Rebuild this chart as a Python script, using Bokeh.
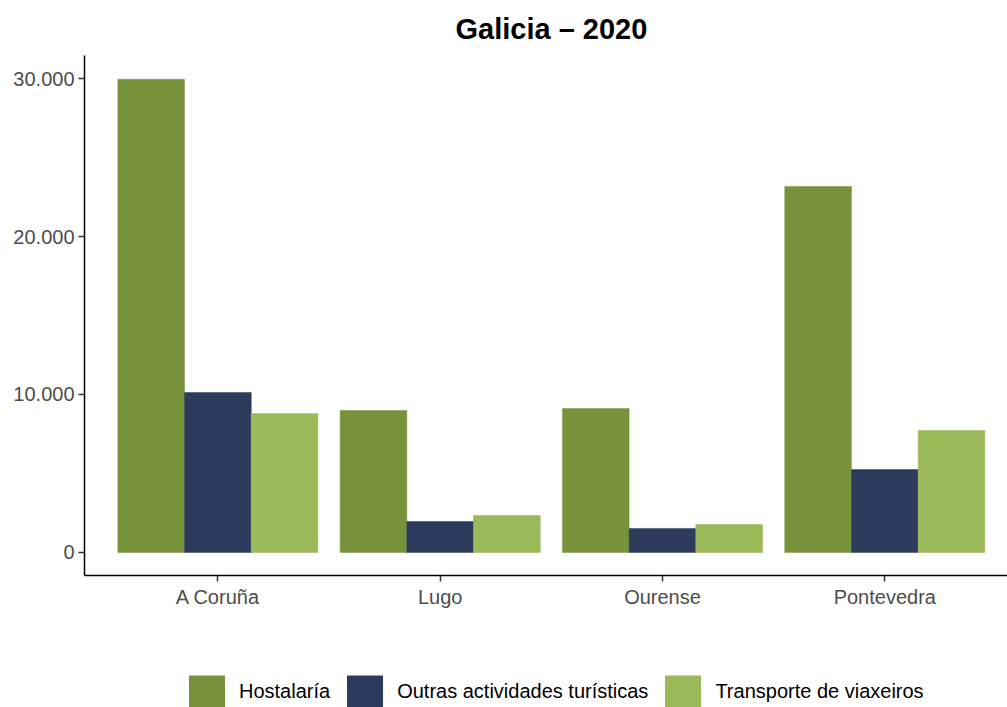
from bokeh.plotting import figure
from bokeh.models import Range1d, FixedTicker, Legend, LegendItem
from bokeh.layouts import column
from bokeh.embed import file_html
from bokeh.resources import INLINE

# Data
provinces = ["A Coruña", "Lugo", "Ourense", "Pontevedra"]
series = ["Hostalaría", "Outras actividades turísticas", "Transporte de viaxeiros"]
hostalaria = [29950, 8990, 9110, 23170]
outras = [10130, 1960, 1520, 5250]
transporte = [8800, 2340, 1770, 7720]
colors = ["#78923C", "#2C3A5C", "#9BB958"]
y_ticks = [0, 10000, 20000, 30000]

values = [hostalaria, outras, transporte]
xpos = [i + 1 for i in range(len(provinces))]

p = figure(width=1007, height=650, output_backend="svg", toolbar_location=None,
           x_range=Range1d(0.4, 4.552), y_range=Range1d(-1456, 31456),
           min_border_left=84, min_border_right=0, min_border_top=55, min_border_bottom=75)

p.title.text = "Galicia – 2020"
p.title.align = "left"
p.title.offset = 371
p.title.standoff = 21
p.title.text_font = "Liberation Sans"
p.title.text_font_size = "29px"
p.title.text_font_style = "bold"
p.title.text_color = "black"

bar_w = 0.3
offsets = [-0.3, 0.0, 0.3]
for vals, off, col in zip(values, offsets, colors):
    p.vbar(x=[x + off for x in xpos], top=vals, bottom=0, width=bar_w,
           fill_color=col, line_color=col, line_width=0.5)

p.xgrid.visible = False
p.ygrid.visible = False
p.outline_line_color = None
p.background_fill_color = "white"

for ax in (p.xaxis[0], p.yaxis[0]):
    ax.axis_line_color = "black"
    ax.axis_line_width = 1.5
    ax.major_tick_line_color = "#333333"
    ax.major_tick_line_width = 1.5
    ax.major_tick_out = 6
    ax.major_tick_in = 0
    ax.minor_tick_line_color = None
    ax.major_label_text_font = "Liberation Sans"
    ax.major_label_text_font_size = "20px"
    ax.major_label_text_color = "#4D4D4D"

p.xaxis.ticker = FixedTicker(ticks=xpos)
p.xaxis.major_label_overrides = {x: name for x, name in zip(xpos, provinces)}
p.xaxis.major_label_standoff = 4
p.yaxis.ticker = FixedTicker(ticks=y_ticks)
p.yaxis.major_label_overrides = {t: f"{t:,}".replace(",", ".") for t in y_ticks}
p.yaxis.major_label_standoff = 4

# legend strip below the chart (frame aligned with the main chart's frame)
lg = figure(width=1007, height=57, output_backend="svg", toolbar_location=None,
            x_range=Range1d(0, 1), y_range=Range1d(0, 1),
            x_axis_location=None, y_axis_location=None,
            min_border_left=0, min_border_right=0, min_border_top=0, min_border_bottom=0)
lg.xgrid.visible = False
lg.ygrid.visible = False
lg.outline_line_color = None
# legend-key renderers: a single zero-height bar placed outside the visible range
key_renderers = [lg.vbar(x=[-1], top=[0], bottom=0, width=0.1, fill_color=c, line_color=None)
                 for c in colors]

legend = Legend(items=[LegendItem(label=s, renderers=[r]) for s, r in zip(series, key_renderers)],
                orientation="horizontal", location=(100, -4),
                glyph_width=45, glyph_height=40, label_standoff=10, spacing=12,
                padding=0, margin=0, border_line_color=None,
                label_text_font="Liberation Sans", label_text_font_size="20px",
                label_text_color="black", background_fill_alpha=0)
lg.add_layout(legend)

layout = column(p, lg, spacing=0)
open("out.html", "w").write(file_html(layout, INLINE))
